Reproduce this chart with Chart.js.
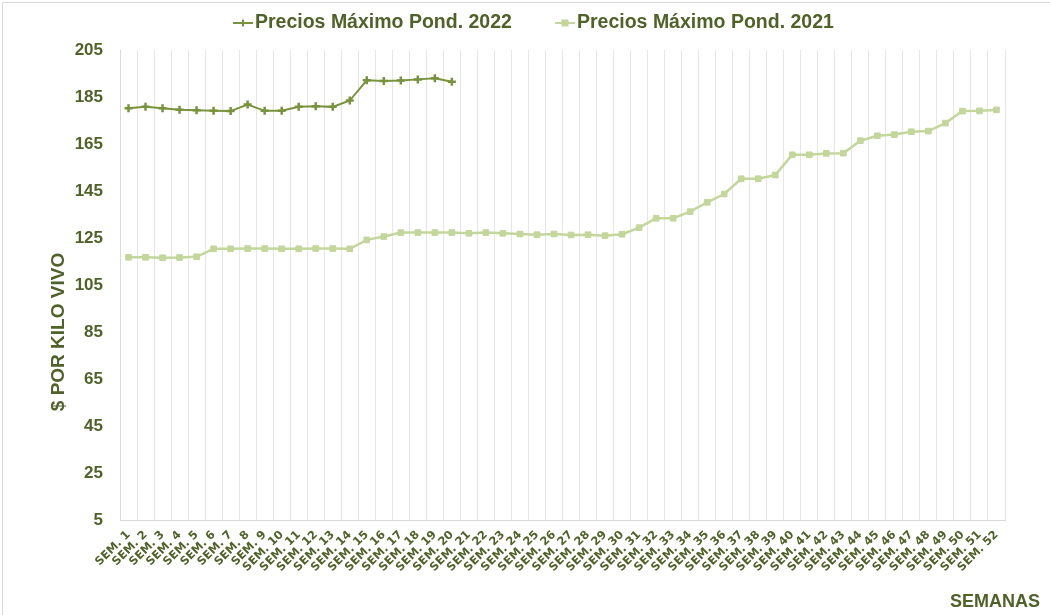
<!DOCTYPE html>
<html>
<head>
<meta charset="utf-8">
<script src="https://cdn.jsdelivr.net/npm/chart.js@4.4.1/dist/chart.umd.min.js"></script>
<style>
  html, body { margin: 0; padding: 0; background: #fff; }
  #wrap { width: 1050px; height: 615px; position: relative; }
</style>
</head>
<body>
<div id="wrap"><canvas id="preciosChart" width="1050" height="615"></canvas></div>
<script>
// Semanas del año
var semanas = [];
for (var i = 1; i <= 52; i++) semanas.push('SEM. ' + i);

// Precios máximos ponderados ($ por kilo vivo)
var precios2022 = [180.2, 180.9, 180.2, 179.6, 179.4, 179.2, 179.0, 181.8, 179.1, 179.2,
                   180.8, 181.1, 180.8, 183.5, 192.1, 191.8, 192.0, 192.5, 193.0, 191.5];

var precios2021 = [116.8, 116.8, 116.6, 116.7, 117.0, 120.4, 120.4, 120.5, 120.5, 120.4,
                   120.4, 120.5, 120.5, 120.4, 124.2, 125.6, 127.3, 127.3, 127.3, 127.3,
                   127.0, 127.3, 127.0, 126.7, 126.4, 126.7, 126.3, 126.4, 126.0, 126.6,
                   129.4, 133.4, 133.4, 136.2, 140.2, 143.7, 150.2, 150.2, 151.8, 160.4,
                   160.4, 161.0, 161.1, 166.4, 168.5, 169.0, 170.2, 170.5, 173.9, 179.0,
                   179.1, 179.5];

var textColor = '#4f6228';
var fontFam = "'Liberation Sans', Arial, sans-serif";

// marco, leyenda y titulos de ejes (dibujados a mano)
var extras = {
    id: 'extras',
    beforeDraw: function (chart) {
        var c = chart.ctx;
        c.save();
        c.fillStyle = '#fff';
        c.fillRect(0, 0, chart.width, chart.height);
        c.strokeStyle = '#d9d9d9';
        c.lineWidth = 1;
        c.beginPath();
        c.moveTo(2.5, chart.height);
        c.lineTo(2.5, 2.5);
        c.lineTo(chart.width, 2.5);
        c.stroke();
        c.restore();
    },
    afterDraw: function (chart) {
        var c = chart.ctx;
        c.save();
        c.fillStyle = textColor;
        c.textBaseline = 'middle';

        // leyenda
        c.font = 'bold 19.5px ' + fontFam;
        var xs = [233, 555];
        chart.data.datasets.forEach(function (ds, k) {
            var x0 = xs[k], y0 = 23;
            c.strokeStyle = ds.borderColor;
            c.lineWidth = 2;
            c.beginPath();
            c.moveTo(x0, y0);
            c.lineTo(x0 + 20, y0);
            c.stroke();
            c.fillStyle = ds.borderColor;
            if (k === 0) {
                c.beginPath();
                c.moveTo(x0 + 10, y0 - 3.5); c.lineTo(x0 + 10, y0 + 3.5);
                c.moveTo(x0 + 6.5, y0); c.lineTo(x0 + 13.5, y0);
                c.lineWidth = 2;
                c.stroke();
            } else {
                c.fillRect(x0 + 6.5, y0 - 3.5, 7, 7);
            }
            c.fillStyle = textColor;
            c.textAlign = 'left';
            c.fillText(ds.label, x0 + 22, y0);
        });

        // titulo eje y
        c.font = 'bold 19px ' + fontFam;
        c.translate(59, 332);
        c.rotate(-Math.PI / 2);
        c.textAlign = 'center';
        c.fillText('$ POR KILO VIVO', 0, 0);
        c.setTransform(1, 0, 0, 1, 0, 0);

        // titulo eje x
        c.font = 'bold 18px ' + fontFam;
        c.textAlign = 'right';
        c.fillText('SEMANAS', 1040, 602);
        c.restore();
    }
};

var ctx = document.getElementById('preciosChart').getContext('2d');
var preciosChart = new Chart(ctx, {
    type: 'line',
    data: {
        labels: semanas,
        datasets: [{
            label: 'Precios Máximo Pond. 2022',
            data: precios2022,
            borderColor: '#77933c',
            backgroundColor: '#77933c',
            borderWidth: 2,
            pointStyle: 'cross',
            pointRadius: 4,
            pointBorderWidth: 2.5,
            tension: 0
        }, {
            label: 'Precios Máximo Pond. 2021',
            data: precios2021,
            borderColor: '#c3d69b',
            backgroundColor: '#c3d69b',
            borderWidth: 2.5,
            pointStyle: 'rect',
            pointRadius: 4,
            pointBorderWidth: 1,
            tension: 0
        }]
    },
    options: {
        responsive: false,
        animation: false,
        devicePixelRatio: 1,
        layout: { padding: { top: 50, right: 45, left: 0, bottom: 0 } },
        scales: {
            x: {
                offset: true,
                afterFit: function (s) { s.height = 95; },
                grid: { display: true, offset: true, color: '#e6e6e6', drawTicks: false },
                border: { display: true, color: '#d9d9d9' },
                ticks: {
                    autoSkip: false,
                    maxRotation: 45,
                    minRotation: 45,
                    padding: 8,
                    color: textColor,
                    font: { family: "'DejaVu Sans', sans-serif", size: 11.5, weight: 'bold' }
                }
            },
            y: {
                min: 5,
                max: 205,
                afterFit: function (s) { s.width = 120; },
                grid: { display: false },
                border: { display: true, color: '#d9d9d9' },
                ticks: {
                    stepSize: 20,
                    padding: 9,
                    color: textColor,
                    font: { family: fontFam, size: 17, weight: 'bold' }
                }
            }
        },
        plugins: {
            legend: { display: false },
            tooltip: { enabled: false }
        }
    },
    plugins: [extras]
});
</script>
</body>
</html>
